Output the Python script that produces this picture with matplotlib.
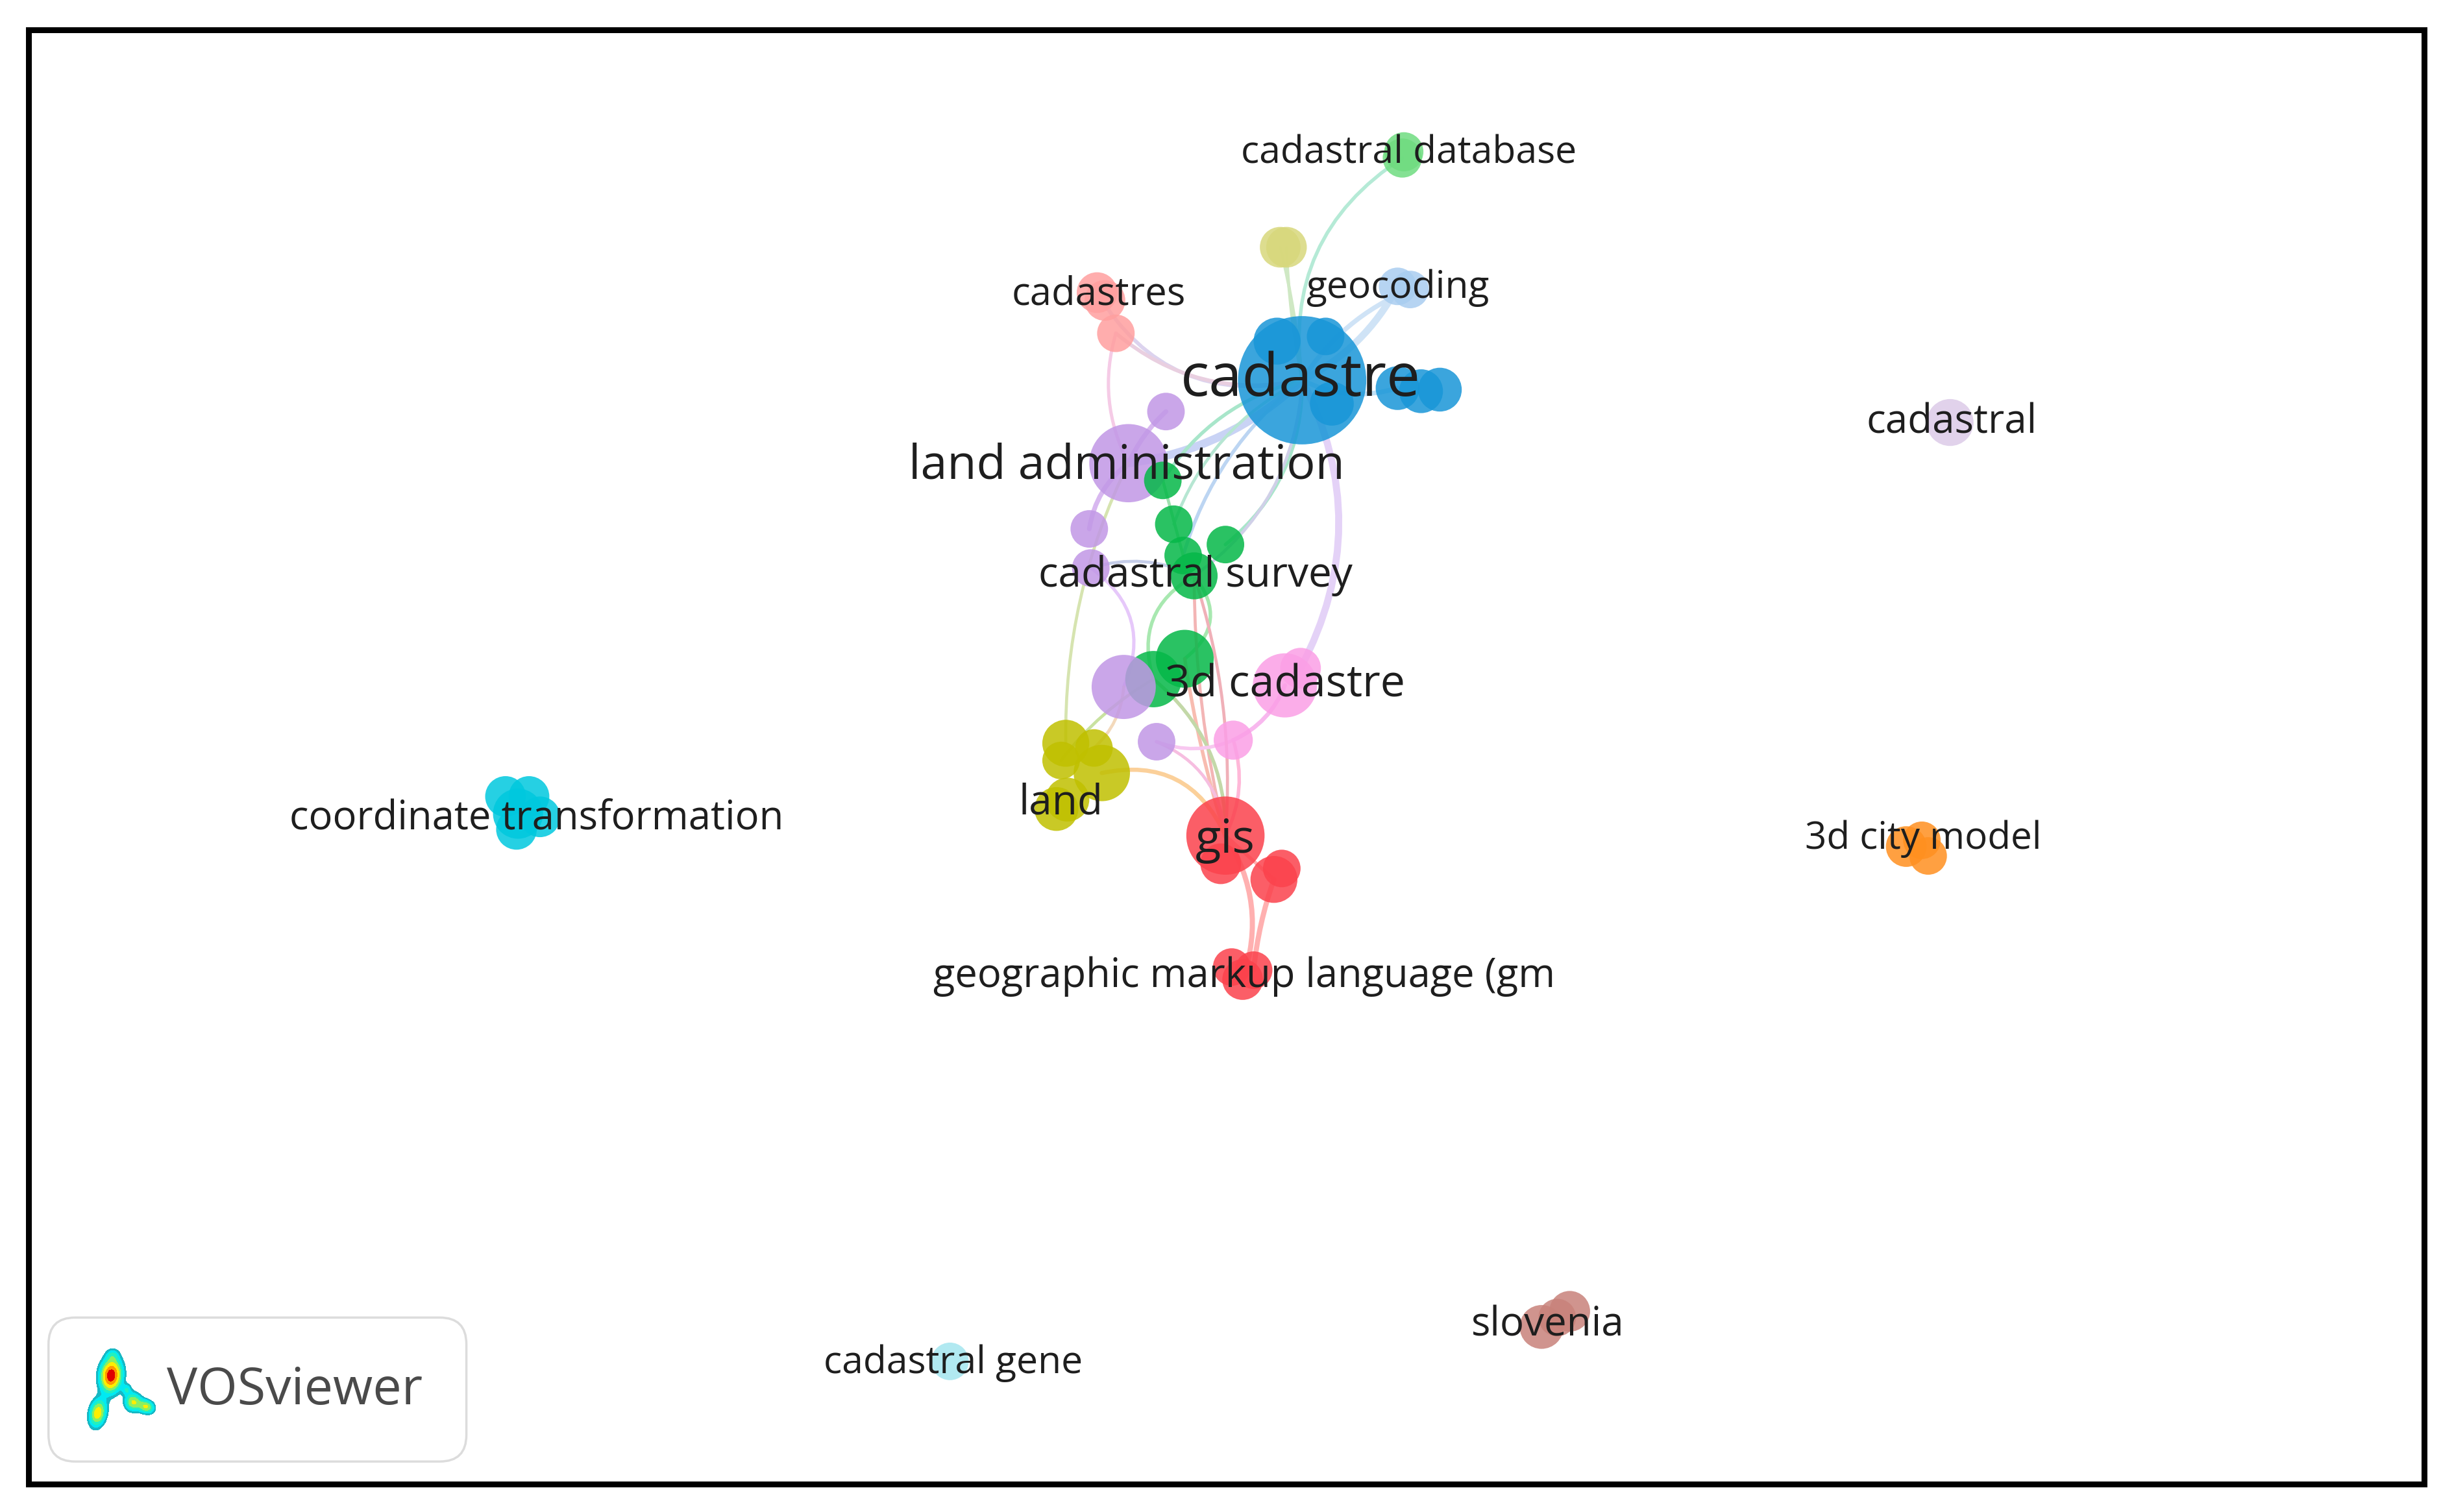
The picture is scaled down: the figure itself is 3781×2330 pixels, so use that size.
import numpy as np
import matplotlib
matplotlib.use("Agg")
import matplotlib.pyplot as plt
from matplotlib.patches import Circle, PathPatch, FancyBboxPatch, Rectangle
from matplotlib.path import Path

plt.rcParams['font.family'] = ['Open Sans', 'DejaVu Sans']

# ---- network data (map coordinates) ----
node_id = ['cadastre','b1','b2','b3','b4','b5','b6','geo1','geo2','yl1','yl2','db1','db2',
           'cs1','cs2','cs3','ladm','p1','p2','p3','g1','g2','g3','g4','g5','g6','g7',
           'p4','p5','m1','m2','m3','y1','y2','y3','y4','y5','y6',
           'gis','r1','r2','r3','r4','r5','r6',
           'c1','c2','c3','c4','c5','o1','o2','o3','cad','cg','s1','s2','s3']
node_x = [832,816,847,893,908,920,851,893,901,818,822,897,896,
          701,706,713,721,745,696,697,743,750,756,783,763,757,737,
          718,739,821,831,788,681,678,699,704,675,682,
          783,780,814,819,787,801,794,
          323,338,345,330,331,1218,1228,1232,1246,607,1003,995,985]
node_y = [243,218,215,248,250,249,258,183,185,158,158,97,101,
          187,192,213,296,263,338,363,307,335,355,348,368,421,434,
          439,474,438,427,473,475,486,478,494,517,511,
          534,552,562,555,618,620,626,
          509,509,522,530,520,541,537,547,270,870,838,842,848]
node_r = [41,15,12,14,14,14,14,12,12,13,13,12.5,12.5,
          13,13,12,25,12,12,12,12,12,12,12,15,18.5,18,
          20.5,12,20.5,13,12.5,15,12,12,18,14,14,
          25,13,15,12,12,12,13,
          13,13,13,13,16,13,12,12,15,12,13,12,14]
node_cluster = ['blue']*7 + ['sky']*2 + ['olive']*2 + ['lime']*2 + ['salmon']*3 + ['purple']*4 + \
               ['green']*7 + ['purple']*2 + ['pink']*3 + ['yellow']*6 + ['red']*7 + \
               ['cyan']*5 + ['orange']*3 + ['lilac'] + ['aqua'] + ['brown']*3

edge_from = ['cadastre','cadastre','cadastre','cadastre','cs1','cs3','cs3','cadastre','cadastre','cadastre','cadastre',
             'cadastre','cadastre','cadastre','p1','ladm','p3','y1','y3','g5','g5','g5','g6','g7',
             'p5','p5','m3','m3','y4','r2','gis','cadastre','p3','g5','cadastre','g1','gis','g7']
edge_to   = ['db2','yl1','yl2','geo1','cadastre','cadastre','ladm','ladm','g1','g4','g3',
             'm2','b3','geo2','ladm','p2','p4','ladm','p4','g7','g6','gis','gis','gis',
             'gis','m3','gis','m1','gis','r5','r6','g2','g5','gis','g5','g3','r2','y2']
edge_curve= [-0.16,0.02,-0.02,0.08,0.18,0.12,0.1,-0.08,0.1,-0.12,0.08,
             -0.13,0.1,-0.08,0.05,0.1,-0.2,-0.06,0.1,0.2,-0.25,0.03,0.02,-0.12,
             -0.15,0.1,-0.1,0.1,-0.2,0.03,-0.12,0.1,-0.1,-0.05,-0.12,0,0,0.05]
edge_col  = ['#b5ead6','#cfe8c4','#cfe8c4','#cfe3f6','#dcd3ee','#e9cfe0','#f5cbe6','#c9d3f5','#a8e6ca','#a8e6ca','#bcd5f2',
             '#e4d2f7','#bfe0f5','#cfe3f6','#d8b8f0','#d8b8f0','#e6c8fa','#d6e4b0','#f3d9bb','#a8e8b0','#a8e8b0','#f3b5b5','#f8bcb0','#c3d8a8',
             '#f6bee0','#f8c8f0','#ffb8d8','#f8b8ee','#fbd09a','#ffb0b0','#ffb0b0','#b6e6d2','#c5cde8','#f0b0b8','#d0d0e8','#a0e0b0','#ffb0b0','#c9e2a0']
edge_w    = [1.5,1.3,1.3,3,1.6,1.6,1.4,3.5,1.5,1.5,1.5,
             3,2,2,2,2,1.4,1.3,1.3,1.5,1.5,1.3,1.5,1.5,
             1.3,1.5,1.5,1.8,1.8,2.2,2.2,1.3,1.3,1.3,1.3,1.3,1.5,1.3]

labels     = ['cadastre','land administration','cadastral survey','3d cadastre','gis','land',
              'geographic markup language (gm','coordinate transformation','cadastral database',
              'cadastres','geocoding','cadastral','3d city model','slovenia','cadastral gene']
label_x    = [831,720,764,821,783,678,795,343,900,702,893,1247,1229,989,609]
label_y    = [243,298,368,438,537,513,624,523,98,188,184,270,536,847,871]
label_size = [66.5,53,46,49,52,46,44.3,44.4,42.4,43,42.3,44.6,42,44.6,42.4]

logo_name = 'VOSviewer'

cluster_color = {'blue':'#1896d8','sky':'#a9cdf0','olive':'#d8d87c','lime':'#6fdc80','salmon':'#ff9f9f',
                 'purple':'#c197e6','green':'#05b848','pink':'#fb9fe6','yellow':'#c0c000','red':'#fb424c',
                 'cyan':'#00c8de','orange':'#ff9020','lilac':'#dccbe8','aqua':'#a4e6ef','brown':'#c8827a'}

W, H = 3781, 2330
SC = 3781/1568.0
fig = plt.figure(figsize=(W/100, H/100), dpi=100, facecolor='white')
ax = fig.add_axes([0, 0, 1, 1])
ax.set_xlim(0, W/SC)
ax.set_ylim(H/SC, 0)
ax.axis('off')

pos = {n: (x, y) for n, x, y in zip(node_id, node_x, node_y)}

for a, b, c, col, w in zip(edge_from, edge_to, edge_curve, edge_col, edge_w):
    x0, y0 = pos[a]; x1, y1 = pos[b]
    mx, my = (x0+x1)/2, (y0+y1)/2
    dx, dy = x1-x0, y1-y0
    cx, cy = mx - dy*c*2, my + dx*c*2
    p = Path([(x0, y0), (cx, cy), (x1, y1)], [Path.MOVETO, Path.CURVE3, Path.CURVE3])
    ax.add_patch(PathPatch(p, fc='none', ec=col, lw=w*2.6, zorder=1, capstyle='round'))

for n, x, y, r, cl in zip(node_id, node_x, node_y, node_r, node_cluster):
    ax.add_patch(Circle((x, y), r, fc=cluster_color[cl], ec='none', alpha=0.85, zorder=2))

for t, x, y, s in zip(labels, label_x, label_y, label_size):
    ax.text(x, y, t, fontsize=s, ha='center', va='center', color='#1e1e1e', zorder=5)

# frame
ax.add_patch(Rectangle((18.2, 19), 1530.6, 929.5, fc='none', ec='black', lw=6.5, zorder=6))

# logo box
ax.add_patch(FancyBboxPatch((31+17, 842+17), 267-34, 92-34, boxstyle='round,pad=17,rounding_size=17',
                            fc='white', ec='#dcdcdc', lw=2.5, zorder=6))
ax.text(188.5, 889, logo_name, fontsize=57, ha='center', va='center', color='#4a4a4a', zorder=7)

# logo heat blobs
gx, gy = np.meshgrid(np.linspace(48, 106, 400), np.linspace(856, 920, 440))
def blob(cx, cy, sx, sy, a, th):
    u = (gx-cx)*np.cos(th)+(gy-cy)*np.sin(th)
    v = -(gx-cx)*np.sin(th)+(gy-cy)*np.cos(th)
    return a*np.exp(-(u/sx)**2-(v/sy)**2)
z = blob(71, 879, 6.5, 10, 1.0, 0.1) + blob(62.5, 903, 5, 8.5, 0.65, 0.2) + \
    blob(85, 896, 5, 5.5, 0.55, 0) + blob(93.5, 899, 5, 4, 0.55, 0.4) + \
    blob(81, 888, 3, 3.5, 0.25, 0) + blob(72, 866, 4, 4, 0.2, 0)
ax.contourf(gx, gy, z, levels=[0.12, 0.2, 0.3, 0.42, 0.55, 0.72, 0.88, 5],
            colors=['#17b8c4', '#00eaf2', '#22f0c0', '#8cf060', '#ffee00', '#ff9800', '#e00000'], zorder=7)

fig.savefig('out.png', dpi=100, facecolor='white')
